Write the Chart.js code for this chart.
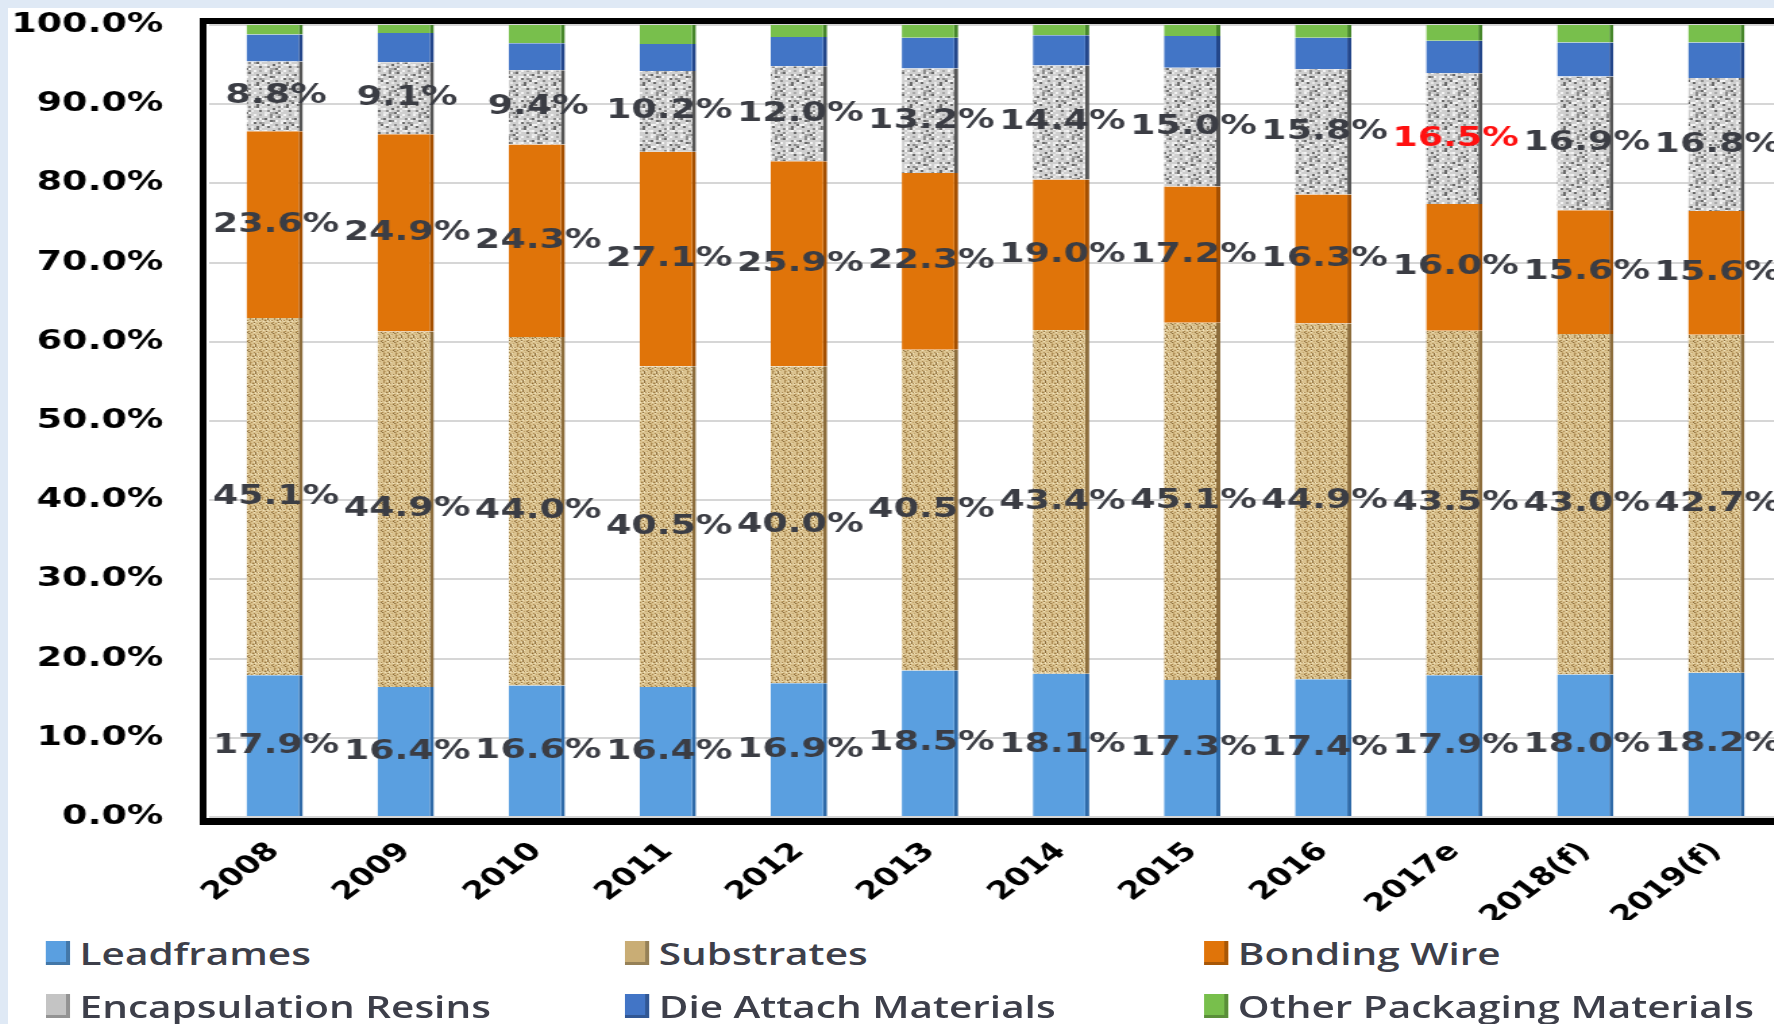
<!DOCTYPE html>
<html>
<head>
<meta charset="utf-8">
<script src="https://cdn.jsdelivr.net/npm/chart.js@4.4.1/dist/chart.umd.min.js"></script>
<style>
  html, body { margin: 0; padding: 0; }
  body { width: 1774px; height: 1024px; overflow: hidden; background: #dfe9f5; position: relative; }
  #sheet { position: absolute; left: 8px; top: 8px; width: 1314px; height: 1016px; background: #fff;
           transform: scaleX(1.35); transform-origin: 0 0; }
  #chart { display: block; }
  #legend { position: absolute; left: 0; top: 912px; width: 1314px; height: 104px;
            font-family: "Open Sans", sans-serif; font-weight: 600; font-size: 30px; color: #3d3f4a; }
  .item { position: absolute; display: flex; align-items: center; height: 40px; white-space: nowrap; }
  .box { width: 18px; height: 24px; margin-right: 7px; box-shadow: inset -3px -3px 0 rgba(0,0,0,0.25); }
</style>
</head>
<body>
<div id="sheet">
  <canvas id="chart" width="1314" height="912"></canvas>
  <div id="legend"></div>
</div>
<script>
const categories = ['2008', '2009', '2010', '2011', '2012', '2013', '2014', '2015', '2016', '2017e', '2018(f)', '2019(f)'];
const leadframes = [17.9, 16.4, 16.6, 16.4, 16.9, 18.5, 18.1, 17.3, 17.4, 17.9, 18.0, 18.2];
const substrates = [45.1, 44.9, 44.0, 40.5, 40.0, 40.5, 43.4, 45.1, 44.9, 43.5, 43.0, 42.7];
const bondingWire = [23.6, 24.9, 24.3, 27.1, 25.9, 22.3, 19.0, 17.2, 16.3, 16.0, 15.6, 15.6];
const encapsulation = [8.8, 9.1, 9.4, 10.2, 12.0, 13.2, 14.4, 15.0, 15.8, 16.5, 16.9, 16.8];
const dieAttach = [3.4, 3.7, 3.4, 3.4, 3.7, 3.9, 3.8, 4.0, 4.0, 4.1, 4.3, 4.5];
const otherMaterials = [1.2, 1.0, 2.3, 2.4, 1.5, 1.6, 1.3, 1.4, 1.6, 2.0, 2.2, 2.2];
const seriesNames = ['Leadframes', 'Substrates', 'Bonding Wire', 'Encapsulation Resins', 'Die Attach Materials', 'Other Packaging Materials'];
const yTicks = [0, 10, 20, 30, 40, 50, 60, 70, 80, 90, 100];

// textured fills for substrates / resins
function makePattern(size, base, marks, dot) {
  const c = document.createElement('canvas');
  c.width = size; c.height = size;
  const g = c.getContext('2d');
  g.fillStyle = base;
  g.fillRect(0, 0, size, size);
  for (let i = 0; i < size; i += dot) {
    for (let j = 0; j < size; j += dot) {
      const k = (i * 7 + j * 13 + (i * j) % 5) % 11;
      if (marks[k]) { g.fillStyle = marks[k]; g.fillRect(i, j, dot, dot); }
    }
  }
  return g.createPattern(c, 'repeat');
}
const ctx = document.getElementById('chart').getContext('2d');
const substratePattern = makePattern(9, '#dbc390', { 0: '#a9874f', 3: '#f1e3bd', 6: '#c2a36a', 9: '#8c6d3c' }, 1);
const resinPattern = makePattern(22, '#cfcfcf', { 1: '#8a8a8a', 4: '#f4f4f4', 7: '#a8a8a8', 10: '#6a6a6a', 2: '#e8e8e8' }, 2);

const fills = ['#5a9fe0', substratePattern, '#e07409', resinPattern, '#4275c6', '#78bf4c'];
const edges = ['#2f6aa8', '#8c6d3c', '#a44f00', '#555555', '#23468a', '#46862a'];
const legendColors = ['#5a9fe0', '#c9ad75', '#e07409', '#c4c4c4', '#4275c6', '#78bf4c'];
const seriesData = [leadframes, substrates, bondingWire, encapsulation, dieAttach, otherMaterials];

const frame = {
  id: 'frame',
  afterDraw(chart) {
    const a = chart.chartArea, c = chart.ctx;
    c.save();
    c.fillStyle = '#000';
    c.fillRect(a.left - 7, a.top - 7, 5, a.bottom - a.top + 15);
    c.fillRect(a.left - 7, a.top - 7, chart.width, 6);
    c.fillRect(a.left - 7, a.bottom + 1, chart.width, 7);
    c.restore();
  }
};

const valueLabels = {
  id: 'valueLabels',
  afterDatasetsDraw(chart) {
    const c = chart.ctx;
    c.save();
    c.font = 'bold 27px "DejaVu Sans"';
    c.textAlign = 'center';
    c.textBaseline = 'middle';
    for (let d = 0; d < 4; d++) {
      chart.getDatasetMeta(d).data.forEach((bar, i) => {
        const p = bar.getProps(['x', 'y', 'base'], true);
        c.fillStyle = (d === 3 && i === 9) ? '#ff1010' : '#3b3d44';
        c.fillText(chart.data.datasets[d].data[i].toFixed(1) + '%', p.x + 1, (p.y + p.base) / 2);
      });
    }
    c.restore();
  }
};

new Chart(ctx, {
  type: 'bar',
  data: {
    labels: categories,
    datasets: seriesData.map((data, i) => ({
      label: seriesNames[i],
      data: data,
      backgroundColor: fills[i],
      borderColor: edges[i],
      borderWidth: { left: 0, right: 3, top: 0, bottom: 0 },
      borderSkipped: false,
      categoryPercentage: 1,
      barPercentage: 0.43
    }))
  },
  options: {
    responsive: false,
    animation: false,
    layout: { padding: { top: 17, right: 0, left: 0, bottom: 0 } },
    scales: {
      x: {
        stacked: true,
        grid: { display: false },
        border: { display: false },
        ticks: {
          color: '#000',
          autoSkip: false,
          maxRotation: 45,
          minRotation: 45,
          padding: 12,
          font: { family: '"DejaVu Sans"', weight: 'bold', size: 25 }
        },
        afterFit: scale => { scale.height = 912 - 809; }
      },
      y: {
        stacked: true,
        min: 0,
        max: 100,
        afterBuildTicks: scale => { scale.ticks = yTicks.map(v => ({ value: v })); },
        grid: { color: '#d6d6d6', lineWidth: 2, drawTicks: false },
        border: { display: false },
        ticks: {
          color: '#000',
          padding: 34,
          callback: value => `${value.toFixed(1)}%`,
          font: { family: '"DejaVu Sans"', weight: 'bold', size: 27 }
        },
        afterFit: scale => { scale.width = 149; scale.paddingTop = 0; scale.paddingBottom = 0; }
      }
    },
    plugins: {
      legend: { display: false },
      tooltip: { enabled: false }
    }
  },
  plugins: [frame, valueLabels]
});

// legend: 3 columns x 2 rows
const legendEl = document.getElementById('legend');
seriesNames.forEach((name, i) => {
  const item = document.createElement('div');
  item.className = 'item';
  item.style.left = (28 + (i % 3) * 429) + 'px';
  item.style.top = (13 + Math.floor(i / 3) * 53) + 'px';
  item.innerHTML = `<span class="box" style="background:${legendColors[i]}"></span><span>${name}</span>`;
  legendEl.appendChild(item);
});
</script>
</body>
</html>
